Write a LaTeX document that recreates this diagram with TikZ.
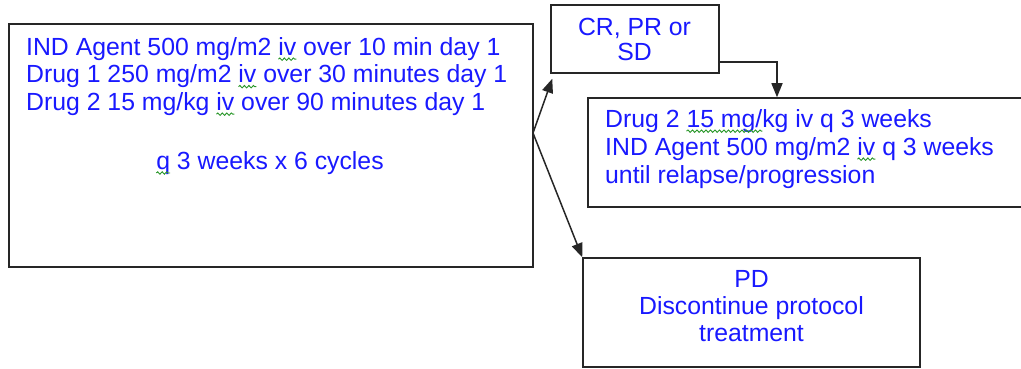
\documentclass[tikz,border=0pt]{standalone}
\usepackage{fontspec}
\setmainfont{Liberation Sans}
\usetikzlibrary{arrows.meta,decorations.pathmorphing}
\definecolor{txtblue}{RGB}{25,25,255}
\definecolor{squig}{RGB}{40,150,40}
\newcommand\sq[1]{\tikz[baseline=(sqw.base)]{\node[inner sep=0pt, outer sep=0pt, text=txtblue] (sqw) {#1};
  \draw[overlay, squig, line width=0.9pt, decorate, decoration={snake, amplitude=1.2pt, segment length=4.5pt}]
    ([yshift=-4pt]sqw.base west) -- ([yshift=-4pt]sqw.base east);}}
\begin{document}
\begin{tikzpicture}[x=1pt,y=-1pt,
  box/.style={draw=black!85, line width=1.5pt, inner sep=0},
  txt/.style={text=txtblue, inner sep=0},
  fa/.style={font=\fontsize{24.8}{27.5}\selectfont},
  fb/.style={font=\fontsize{24.8}{25}\selectfont},
  fc/.style={font=\fontsize{24.8}{28}\selectfont},
  fd/.style={font=\fontsize{24.8}{27}\selectfont},
  arr/.style={draw=black!85, line width=1.5pt, -{Triangle[length=14pt,width=11pt]}}]
\useasboundingbox (0,0) rectangle (1021,369);
\clip (0,0) rectangle (1021,369);
\node[box, minimum width=524, minimum height=243] (main) at (271,145.5) {};
\node[box, minimum width=168, minimum height=68] (cr) at (635,39) {};
\node[box, minimum width=450, minimum height=109] (drug) at (813,152.5) {};
\node[box, minimum width=337, minimum height=109] (pd) at (751.5,312.5) {};
\node[txt, fa, anchor=north west, align=left] (maintxt) at (26,37)
  {IND Agent 500 mg/m2 \sq{iv} over 10 min day 1\\Drug 1 250 mg/m2 \sq{iv} over 30 minutes day 1\\Drug 2 15 mg/kg \sq{iv} over 90 minutes day 1};
\node[txt, fa, anchor=base] (cycles) at (270,169) {\sq{q} 3 weeks x 6 cycles};
\node[txt, fb, anchor=north, align=center] (crtxt) at (634.5,17.5) {CR, PR or\\SD};
\node[txt, fc, anchor=north west, align=left] (drugtxt) at (605,109)
  {Drug 2 \sq{15 mg/}kg iv q 3 weeks\\IND Agent 500 mg/m2 \sq{iv} q 3 weeks\\until relapse/progression};
\node[txt, fd, anchor=north, align=center] (pdtxt) at (751.5,270) {PD\\Discontinue protocol\\treatment};
\coordinate (split) at (533,133);
\draw[arr] (split) -- ([xshift=2pt,yshift=-5pt]cr.south west);
\draw[arr] (split) -- (pd.north west);
\draw[arr] ([yshift=-23pt]cr.east) -| ([xshift=-36pt]drug.north);
\end{tikzpicture}
\end{document}
